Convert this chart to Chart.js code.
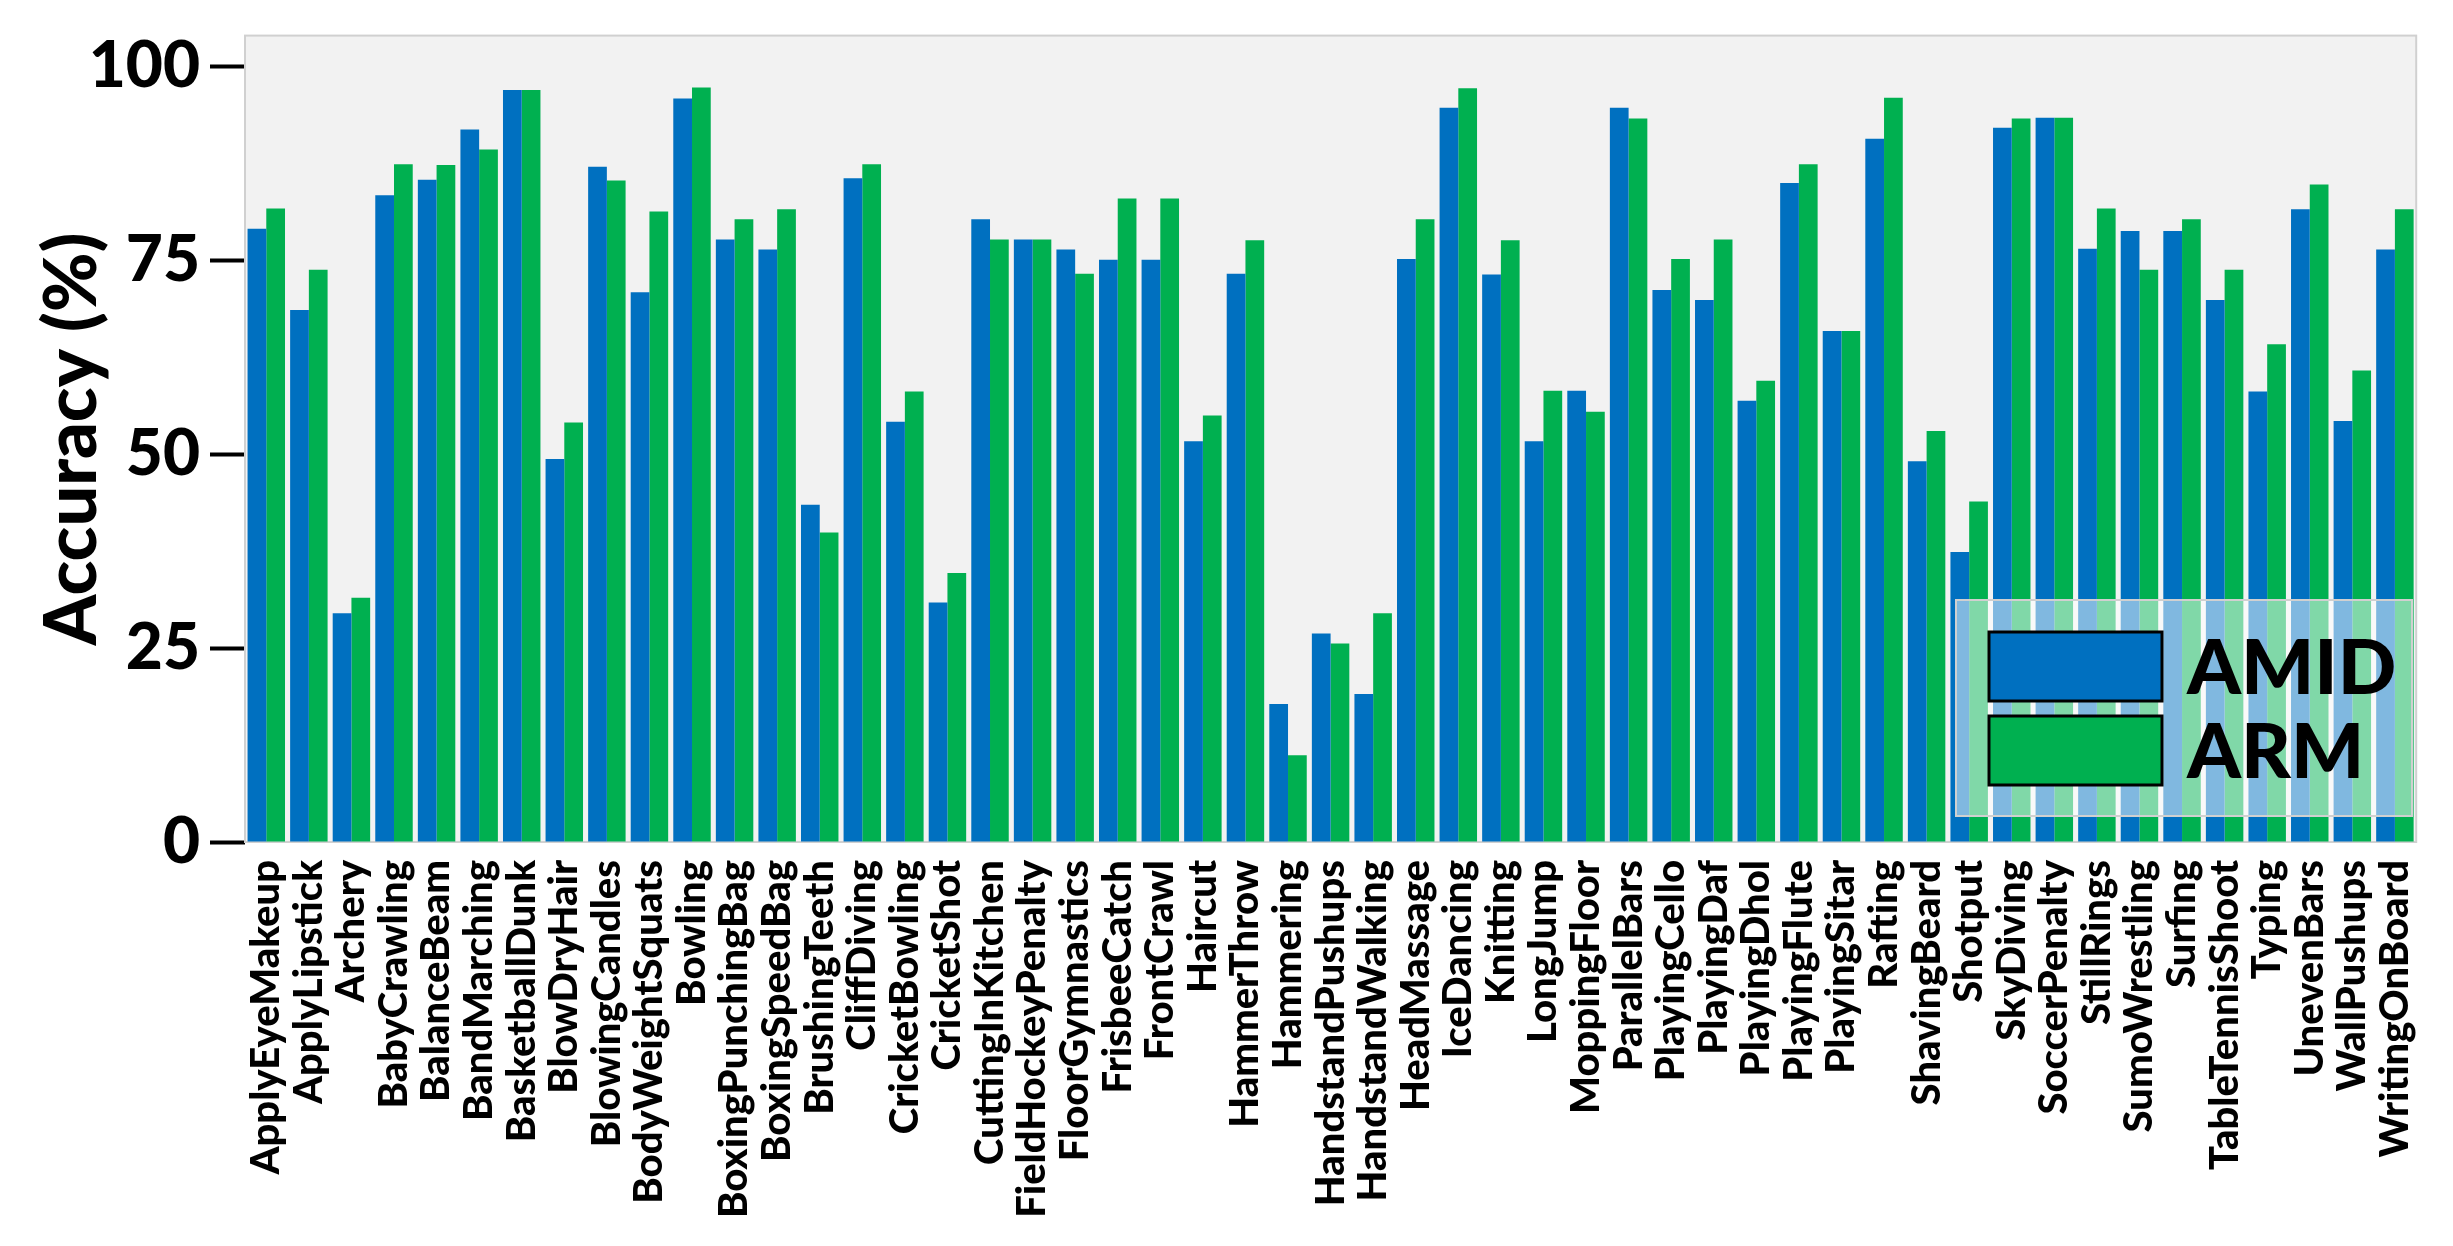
<!DOCTYPE html>
<html>
<head>
<meta charset="utf-8">
<script src="https://cdn.jsdelivr.net/npm/chart.js@4.4.0/dist/chart.umd.min.js"></script>
<style>
  html, body { margin: 0; padding: 0; background: #fff; overflow: hidden; }
</style>
</head>
<body>
<canvas id="myChart" width="2453" height="1246"></canvas>
<script>
const categories = ['ApplyEyeMakeup', 'ApplyLipstick', 'Archery', 'BabyCrawling', 'BalanceBeam',
  'BandMarching', 'BasketballDunk', 'BlowDryHair', 'BlowingCandles', 'BodyWeightSquats', 'Bowling',
  'BoxingPunchingBag', 'BoxingSpeedBag', 'BrushingTeeth', 'CliffDiving', 'CricketBowling', 'CricketShot',
  'CuttingInKitchen', 'FieldHockeyPenalty', 'FloorGymnastics', 'FrisbeeCatch', 'FrontCrawl', 'Haircut',
  'HammerThrow', 'Hammering', 'HandstandPushups', 'HandstandWalking', 'HeadMassage', 'IceDancing',
  'Knitting', 'LongJump', 'MoppingFloor', 'ParallelBars', 'PlayingCello', 'PlayingDaf', 'PlayingDhol',
  'PlayingFlute', 'PlayingSitar', 'Rafting', 'ShavingBeard', 'Shotput', 'SkyDiving', 'SoccerPenalty',
  'StillRings', 'SumoWrestling', 'Surfing', 'TableTennisShoot', 'Typing', 'UnevenBars', 'WallPushups',
  'WritingOnBoard'];

const amid = [79.1, 68.6, 29.5, 83.4, 85.4, 91.9, 97.0, 49.4, 87.1, 70.9, 95.9, 77.7, 76.4, 43.5, 85.6,
  54.2, 30.9, 80.3, 77.7, 76.4, 75.1, 75.1, 51.7, 73.3, 17.8, 26.9, 19.1, 75.2, 94.7, 73.2, 51.7, 58.2,
  94.7, 71.2, 69.9, 56.9, 85.0, 65.9, 90.7, 49.1, 37.4, 92.1, 93.4, 76.5, 78.8, 78.8, 69.9, 58.1, 81.6,
  54.3, 76.4];

const arm = [81.7, 73.8, 31.5, 87.4, 87.3, 89.3, 97.0, 54.1, 85.3, 81.3, 97.3, 80.3, 81.6, 39.9, 87.4,
  58.1, 34.7, 77.7, 77.7, 73.3, 83.0, 83.0, 55.0, 77.6, 11.2, 25.6, 29.5, 80.3, 97.2, 77.6, 58.2, 55.5,
  93.3, 75.2, 77.7, 59.5, 87.4, 65.9, 96.0, 53.0, 43.9, 93.3, 93.4, 81.7, 73.8, 80.3, 73.8, 64.2, 84.8,
  60.8, 81.6];

const yTicks = [0, 25, 50, 75, 100];

// gray plot background with thin frame
const plotBackground = {
  id: 'plotBackground',
  beforeDatasetsDraw(chart) {
    const {ctx, chartArea: a} = chart;
    ctx.save();
    ctx.fillStyle = '#f2f2f2';
    ctx.fillRect(a.left, a.top, a.right - a.left, a.bottom - a.top);
    ctx.strokeStyle = '#d0d0d0';
    ctx.lineWidth = 2;
    ctx.strokeRect(a.left, a.top, a.right - a.left, a.bottom - a.top);
    ctx.restore();
  }
};

// legend sits inside the plot, bottom right, half transparent
const insideLegend = {
  id: 'insideLegend',
  afterDatasetsDraw(chart) {
    const ctx = chart.ctx;
    ctx.save();
    ctx.fillStyle = 'rgba(255,255,255,0.5)';
    ctx.fillRect(1956, 600, 456, 216);
    ctx.strokeStyle = '#d0d0d0';
    ctx.lineWidth = 2;
    ctx.strokeRect(1956, 600, 456, 216);
    chart.data.datasets.forEach((ds, i) => {
      const y = 632 + i * 84;
      ctx.fillStyle = ds.backgroundColor;
      ctx.fillRect(1989, y, 173, 69);
      ctx.strokeStyle = '#000';
      ctx.lineWidth = 3;
      ctx.strokeRect(1989, y, 173, 69);
      ctx.fillStyle = '#000';
      ctx.font = '900 77px Lato';
      ctx.textBaseline = 'middle';
      ctx.fillText(ds.label, 2187, y + 37);
    });
    ctx.restore();
  }
};

const data = {
  labels: categories,
  datasets: [{
    label: 'AMID',
    data: amid,
    backgroundColor: '#0070c0',
    borderWidth: 0
  }, {
    label: 'ARM',
    data: arm,
    backgroundColor: '#00b050',
    borderWidth: 0
  }]
};

const config = {
  type: 'bar',
  data,
  options: {
    responsive: false,
    animation: false,
    devicePixelRatio: 1,
    layout: { padding: { top: 34, right: 10, left: 0, bottom: 0 } },
    datasets: {
      bar: { barPercentage: 1.0, categoryPercentage: 0.88 }
    },
    plugins: {
      legend: { display: false },
      tooltip: { enabled: false }
    },
    scales: {
      x: {
        grid: { display: false, drawTicks: false },
        border: { display: false },
        ticks: {
          autoSkip: false,
          minRotation: 90,
          maxRotation: 90,
          padding: 18,
          color: '#000',
          font: { family: 'Lato', weight: 900, size: 40, lineHeight: 1 }
        },
        afterFit(scale) { scale.height = 404; }
      },
      y: {
        min: 0,
        max: 104,
        border: { display: false },
        grid: {
          drawOnChartArea: false,
          drawTicks: true,
          tickLength: 35,
          tickWidth: 4,
          tickColor: '#000'
        },
        ticks: {
          padding: 10,
          color: '#000',
          font: { family: 'Lato', weight: 900, size: 64, lineHeight: 0.8 }
        },
        afterBuildTicks(scale) {
          scale.ticks = yTicks.map(v => ({ value: v }));
        },
        title: {
          display: true,
          text: 'Accuracy (%)',
          color: '#000',
          padding: { top: 30, bottom: 0 },
          font: { family: 'Lato', weight: 900, size: 72 }
        },
        afterFit(scale) { scale.width = 245; }
      }
    }
  },
  plugins: [plotBackground, insideLegend]
};

const myChart = new Chart(document.getElementById('myChart'), config);
</script>
</body>
</html>
